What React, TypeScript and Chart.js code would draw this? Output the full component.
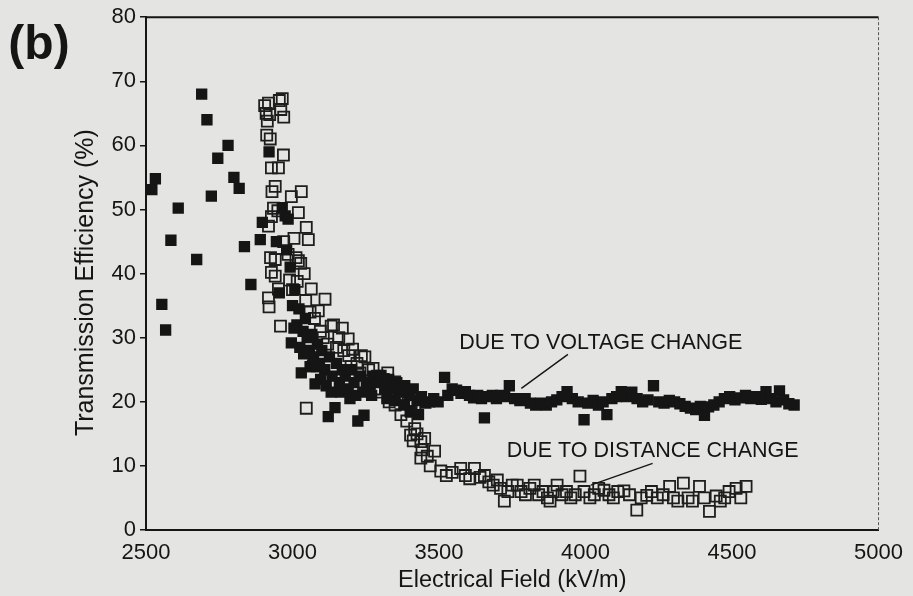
import React, { useEffect, useRef } from "react";
import { Chart, registerables } from "chart.js";

Chart.register(...registerables);

const FONT = "'Liberation Sans', Arial, Helvetica, sans-serif";
const INK = "#151515";
const PAPER = "#e4e4e2";

const X_MIN = 2500;
const X_MAX = 5000;
const X_STEP = 500;
const Y_MIN = 0;
const Y_MAX = 80;
const Y_STEP = 10;

const xTitle = "Electrical Field (kV/m)";
const yTitle = "Transmission Efficiency (%)";
const panelLabel = "(b)";

// [electrical field kV/m, transmission efficiency %] — filled squares
const voltageChange: [number, number][] = [
  [2520, 53.1], [2532, 54.8], [2554, 35.2], [2567, 31.2], [2585, 45.2],
  [2610, 50.2], [2673, 42.2], [2690, 68.0], [2708, 64.0], [2723, 52.1],
  [2745, 58.0], [2780, 60.0], [2800, 55.0], [2818, 53.3], [2836, 44.2],
  [2858, 38.3], [2890, 45.3], [2897, 48.0], [2920, 59.0], [2945, 45.0],
  [2955, 37.0], [2965, 50.3], [2975, 49.0], [2985, 48.5], [2980, 43.7],
  [2992, 41.0], [2996, 29.2], [3000, 35.0], [3008, 37.5], [3015, 32.0],
  [3022, 34.5], [3030, 24.5], [3036, 31.0], [3044, 33.0], [3050, 30.0],
  [3058, 28.0], [3066, 30.5], [3072, 27.0], [3077, 22.8], [3085, 29.0],
  [3092, 26.0], [3100, 28.0], [3110, 25.0], [3122, 17.7], [3126, 27.0],
  [3135, 24.0], [3145, 19.1], [3150, 26.0], [3160, 23.0], [3170, 25.0],
  [3180, 24.0], [3190, 22.0], [3200, 25.0], [3210, 23.0], [3223, 17.0],
  [3232, 24.0], [3244, 17.9], [3252, 23.0], [3262, 22.0], [3275, 24.0],
  [3290, 23.0], [3302, 24.1], [3315, 22.0], [3328, 23.5], [3342, 22.0],
  [3356, 23.0], [3370, 21.5], [3383, 22.5], [3398, 21.0], [3412, 22.0],
  [3425, 20.2], [3440, 20.8], [3455, 19.8], [3468, 20.0], [3482, 20.5],
  [3005, 31.5], [3025, 28.5], [3038, 27.5], [3060, 25.5], [3082, 25.5],
  [3096, 23.5], [3115, 22.5], [3132, 21.5], [3165, 21.5], [3196, 20.5],
  [3216, 21.0], [3240, 21.5], [3270, 21.0], [3322, 20.5], [3350, 20.2],
  [3380, 19.5], [3402, 18.5], [3430, 18.0],
  [3497, 20.0], [3519, 23.8], [3530, 21.0], [3545, 22.0], [3560, 21.8],
  [3575, 21.3], [3590, 21.6], [3604, 21.0], [3618, 20.6], [3632, 21.0],
  [3645, 20.5], [3655, 17.5], [3668, 20.8], [3682, 21.0], [3696, 20.5],
  [3710, 21.0], [3724, 20.8], [3740, 22.5], [3758, 20.5], [3776, 20.2],
  [3794, 20.5], [3812, 19.8], [3830, 19.5], [3848, 19.8], [3866, 19.5],
  [3884, 20.0], [3902, 20.3], [3920, 20.8], [3937, 21.6], [3955, 20.5],
  [3975, 20.0], [3995, 17.2], [4008, 19.8], [4026, 20.2], [4044, 19.5],
  [4060, 20.0], [4073, 18.0], [4090, 20.5], [4106, 20.8], [4122, 21.6],
  [4140, 20.8], [4158, 21.5], [4176, 20.5], [4195, 20.0], [4213, 20.3],
  [4232, 22.5], [4250, 20.0], [4268, 19.8], [4286, 20.2], [4304, 20.0],
  [4322, 19.7], [4340, 19.3], [4358, 19.0], [4376, 18.8], [4392, 19.3],
  [4406, 17.9], [4420, 19.2], [4438, 19.5], [4456, 20.0], [4474, 20.5],
  [4492, 20.8], [4510, 20.3], [4528, 20.6], [4546, 21.0], [4564, 20.5],
  [4582, 20.8], [4600, 20.4], [4616, 21.6], [4634, 20.5], [4650, 20.0],
  [4662, 21.7], [4676, 20.3], [4694, 19.7], [4712, 19.5],
];

// [electrical field kV/m, transmission efficiency %] — open squares
const distanceChange: [number, number][] = [
  [2905, 66.2], [2910, 65.0], [2914, 63.8], [2918, 66.6], [2922, 64.8],
  [2955, 67.0], [2960, 65.6], [2965, 67.3], [2970, 64.4], [2912, 61.6],
  [2924, 61.0], [2969, 58.5], [2928, 56.5], [2952, 56.5], [2941, 53.6],
  [2930, 52.8], [3030, 52.8], [2996, 52.0], [3020, 49.5], [2928, 48.9],
  [2918, 47.4], [2935, 50.2], [2950, 49.8], [3047, 47.2], [3054, 45.3],
  [2941, 42.2], [2925, 42.5], [3020, 42.0], [3028, 41.6], [2928, 40.2],
  [2941, 39.6], [2952, 37.6], [3064, 37.6], [3111, 36.0], [2918, 36.2],
  [2920, 34.8], [2959, 31.8], [2970, 45.0], [2985, 43.0], [2990, 39.0],
  [3000, 37.5], [3005, 45.5], [3012, 42.5], [3016, 38.8], [3040, 40.0],
  [3045, 35.8], [3060, 34.0], [3075, 33.0], [3088, 34.2], [3095, 31.0],
  [3132, 31.8], [3105, 30.0], [3120, 29.0], [3071, 25.6], [3047, 19.0],
  [3140, 32.0], [3158, 30.0], [3175, 28.0], [3190, 29.8], [3192, 27.2],
  [3205, 28.2], [3220, 26.0], [3235, 27.2], [3247, 27.0], [3260, 25.0],
  [3275, 25.2], [3290, 24.0], [3310, 23.5], [3325, 24.5], [3349, 23.1],
  [3150, 28.5], [3170, 31.5], [3200, 25.5], [3230, 24.5], [3262, 23.0],
  [3280, 22.0], [3300, 21.5], [3330, 20.0], [3350, 19.5], [3370, 18.0],
  [3390, 17.0],
  [3365, 22.0], [3380, 21.0], [3395, 20.0], [3405, 18.5], [3417, 19.4],
  [3417, 15.8], [3403, 14.8], [3412, 13.9], [3425, 15.0], [3438, 13.8],
  [3451, 14.3], [3442, 12.5], [3485, 12.3], [3438, 11.2], [3460, 11.5],
  [3470, 10.0], [3506, 9.2], [3525, 8.5], [3545, 9.0], [3574, 9.6],
  [3590, 8.5], [3605, 8.0], [3621, 9.6], [3640, 8.2], [3655, 8.5],
  [3670, 7.5], [3685, 7.0], [3699, 7.8], [3710, 6.5], [3723, 4.5],
  [3735, 6.0], [3750, 7.0], [3767, 7.0], [3780, 6.0], [3795, 5.5],
  [3810, 6.5], [3825, 7.0], [3840, 5.5], [3855, 6.0], [3870, 5.0],
  [3879, 4.5], [3890, 6.0], [3903, 7.0], [3920, 5.5], [3935, 6.0],
  [3950, 5.0], [3965, 5.5], [3981, 8.4], [3995, 6.0], [4015, 5.0],
  [4030, 5.5], [4045, 6.5], [4063, 6.2], [4080, 5.5], [4095, 5.0],
  [4110, 6.0], [4131, 6.1], [4150, 5.5], [4175, 3.1], [4190, 5.0],
  [4209, 5.4], [4225, 6.0], [4245, 5.0], [4265, 5.5], [4287, 6.8],
  [4300, 5.0], [4315, 4.5], [4334, 7.3], [4350, 5.0], [4365, 4.5],
  [4389, 6.8], [4405, 5.0], [4423, 2.9], [4446, 5.3], [4460, 4.5],
  [4475, 5.0], [4490, 6.0], [4514, 6.5], [4530, 5.0], [4548, 6.8],
];

// callout labels, anchored in data coordinates
const callouts = [
  { text: "DUE TO VOLTAGE CHANGE", at: [4052, 29.2], from: [3940, 27.4], to: [3781, 22.1] },
  { text: "DUE TO DISTANCE CHANGE", at: [4229, 12.3], from: [4229, 10.4], to: [4018, 7.0] },
];

const paperPlugin = {
  id: "paper",
  beforeDraw(chart: any) {
    const { ctx, width, height } = chart;
    ctx.save();
    ctx.fillStyle = PAPER;
    ctx.fillRect(0, 0, width, height);
    ctx.restore();
  },
};

const decorPlugin = {
  id: "decor",
  afterDraw(chart: any) {
    const { ctx, chartArea, scales } = chart;
    const { left, right, top, bottom } = chartArea;
    const sx = scales.x;
    const sy = scales.y;
    ctx.save();
    // top frame
    ctx.strokeStyle = INK;
    ctx.lineWidth = 2;
    ctx.beginPath();
    ctx.moveTo(left - 1, top);
    ctx.lineTo(right, top);
    ctx.stroke();
    // right frame (faint, broken)
    ctx.strokeStyle = "#555";
    ctx.lineWidth = 1;
    ctx.setLineDash([3, 2]);
    ctx.beginPath();
    ctx.moveTo(right, top);
    ctx.lineTo(right, bottom);
    ctx.stroke();
    ctx.setLineDash([]);

    // y-axis title
    ctx.fillStyle = INK;
    ctx.font = `25px ${FONT}`;
    ctx.textAlign = "center";
    ctx.textBaseline = "middle";
    ctx.save();
    ctx.translate(86, (top + bottom) / 2 + 9);
    ctx.rotate(-Math.PI / 2);
    ctx.fillText(yTitle, 0, 0);
    ctx.restore();

    // callouts
    ctx.strokeStyle = INK;
    ctx.lineWidth = 1.4;
    ctx.font = `21.5px ${FONT}`;
    for (const c of callouts) {
      ctx.fillText(c.text, sx.getPixelForValue(c.at[0]), sy.getPixelForValue(c.at[1]));
      ctx.beginPath();
      ctx.moveTo(sx.getPixelForValue(c.from[0]), sy.getPixelForValue(c.from[1]));
      ctx.lineTo(sx.getPixelForValue(c.to[0]), sy.getPixelForValue(c.to[1]));
      ctx.stroke();
    }

    // panel label
    ctx.font = `bold 48px ${FONT}`;
    ctx.fillText(panelLabel, 39, 46);
    ctx.restore();
  },
};

export default function App() {
  const canvasRef = useRef<HTMLCanvasElement | null>(null);

  useEffect(() => {
    document.body.style.margin = "0";
    document.body.style.background = PAPER;
    const canvas = canvasRef.current;
    if (!canvas) return;

    const chart = new Chart(canvas, {
      type: "scatter",
      data: {
        datasets: [
          {
            label: "Due to voltage change",
            data: voltageChange.map(([x, y]) => ({ x, y })),
            pointStyle: "rect",
            pointRadius: 8,
            backgroundColor: INK,
            borderColor: INK,
            borderWidth: 0,
          },
          {
            label: "Due to distance change",
            data: distanceChange.map(([x, y]) => ({ x, y })),
            pointStyle: "rect",
            pointRadius: 7.8,
            backgroundColor: "rgba(0,0,0,0)",
            borderColor: "#1e1e1e",
            borderWidth: 1.8,
          },
        ],
      },
      options: {
        animation: false,
        responsive: false,
        devicePixelRatio: 1,
        layout: { padding: { top: 17, right: 31, bottom: 0, left: 0 } },
        plugins: {
          legend: { display: false },
          tooltip: { enabled: false },
        },
        scales: {
          x: {
            type: "linear",
            min: X_MIN,
            max: X_MAX,
            afterFit: (s: any) => {
              s.height = 66;
            },
            ticks: {
              stepSize: X_STEP,
              autoSkip: false,
              maxRotation: 0,
              padding: 10,
              color: INK,
              font: { family: FONT, size: 22 },
              callback: (v: any) => String(v),
            },
            grid: { display: true, drawOnChartArea: false, drawTicks: false, color: INK },
            border: { display: true, color: INK, width: 2 },
            title: {
              display: true,
              text: xTitle,
              color: INK,
              font: { family: FONT, size: 23.5 },
              padding: { top: 0, bottom: 1 },
            },
          },
          y: {
            type: "linear",
            min: Y_MIN,
            max: Y_MAX,
            afterFit: (s: any) => {
              s.width = 146;
            },
            ticks: {
              stepSize: Y_STEP,
              padding: 4,
              color: INK,
              font: { family: FONT, size: 22 },
              callback: (v: any) => String(v),
            },
            grid: {
              display: true,
              drawOnChartArea: false,
              drawTicks: true,
              tickLength: 6,
              color: INK,
              lineWidth: 1.5,
            },
            border: { display: true, color: INK, width: 2 },
            title: { display: false },
          },
        },
      },
      plugins: [paperPlugin, decorPlugin],
    });

    return () => chart.destroy();
  }, []);

  return (
    <div style={{ width: 913, height: 596, background: PAPER }}>
      <canvas ref={canvasRef} width={913} height={596} style={{ display: "block", width: 913, height: 596 }} />
    </div>
  );
}
